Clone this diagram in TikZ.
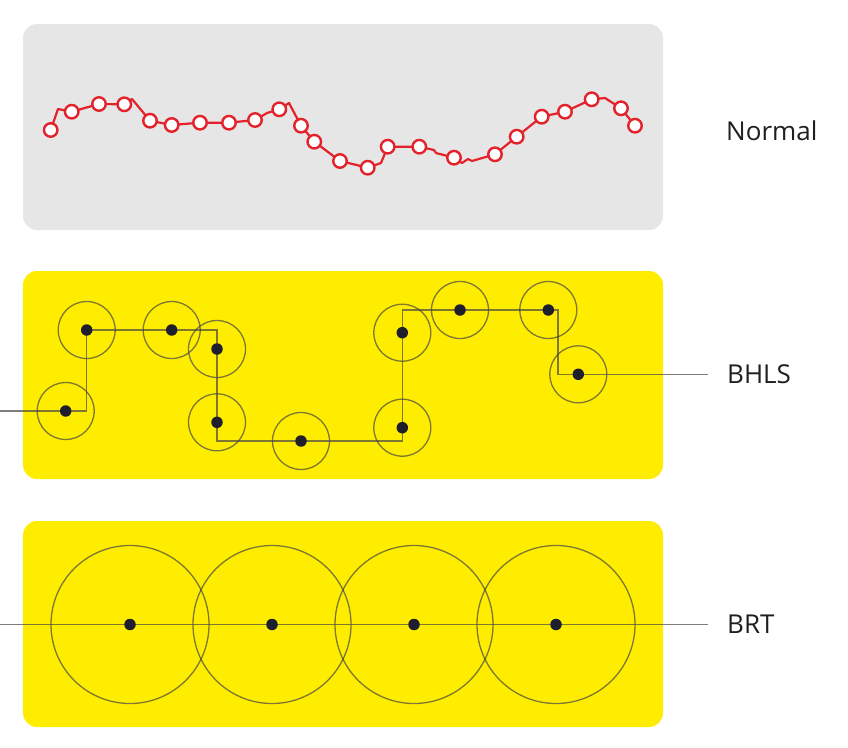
\documentclass[tikz,border=0pt]{standalone}
\usepackage{fontspec}
\setmainfont{Open Sans}
\definecolor{panelgray}{HTML}{E6E6E6}
\definecolor{panelyellow}{HTML}{FFED00}
\definecolor{routered}{HTML}{E3222B}
\definecolor{stopdot}{RGB}{30,30,45}
\definecolor{ringgray}{RGB}{70,70,70}
\begin{document}
\begin{tikzpicture}[x=1pt,y=-1pt,
  panel/.style={rounded corners=14pt},
  redstop/.style={circle,draw=routered,fill=white,line width=2.4pt,minimum size=13.5pt,inner sep=0pt},
  redline/.style={draw=routered,line width=2.2pt,line join=round},
  catch/.style={circle,draw=ringgray,draw opacity=0.7,line width=1.3pt,inner sep=0pt,minimum size=#1},
  catch/.default=57pt,
  stopd/.style={circle,fill=stopdot,inner sep=0pt,minimum size=11.5pt},
  route/.style={draw=ringgray,draw opacity=0.7,line width=1.3pt},
  lbl/.style={anchor=west,font=\fontsize{26}{31}\selectfont,text=black!88,inner sep=0pt}
]
\useasboundingbox (0,0) rectangle (848,747);

% panels
\fill[panelgray,panel] (23,24) rectangle (663,230);
\fill[panelyellow,panel] (23,271) rectangle (663,479);
\fill[panelyellow,panel] (23,521) rectangle (663,727);

% ---------- Normal ----------
\foreach \n/\x/\y in {1/50.7/130,2/71.7/111.7,3/99/104,4/124.3/104.3,5/150/120.7,6/171.7/125,
  7/200/122.7,8/229/122.7,9/255/120,10/279.3/109.3,11/301/125.7,12/314.3/141.7,13/340/161,
  14/367.7/167.7,15/387.7/146.7,16/419.3/146.7,17/454/157.7,18/495/154.3,19/516.7/136.7,
  20/541.7/116.7,21/565/111.7,22/591.7/99.3,23/621/108.3,24/635/125.7}
  \coordinate (c\n) at (\x,\y);
\draw[redline] (c1) -- (58,109) -- (c2) -- (c3) -- (c4) -- (132,99) -- (c5) -- (c6) -- (c7) -- (c8) -- (c9)
  -- (267,113) -- (c10) -- (289,103) -- (c11) -- (c12) -- (c13) -- (c14) -- (381,163) -- (c15)
  -- (c16) -- (434,150) -- (436,153) -- (c17) -- (462,163) -- (468,159) -- (472,161) -- (c18)
  -- (c19) -- (c20) -- (c21) -- (c22) -- (605,98) -- (c23) -- (c24);
\foreach \n in {1,...,24} \node[redstop] (s\n) at (c\n) {};
\node[lbl] (lnormal) at (726,131) {Normal};

% ---------- BHLS ----------
\foreach \n/\x/\y in {1/65.7/411,2/86.7/330,3/171.7/330,4/217/349,5/217/422.3,6/301/441,
  7/402.3/427.7,8/402.3/332.7,9/460/310,10/548.3/310,11/578.3/374.3}
  \node[catch] (h\n) at (\x,\y) {};
\coordinate (hstart) at (0,411);
\coordinate (hk1) at (558,310);
\coordinate (hk2) at (558,374.3);
\coordinate (hend) at (708,374.3);
\draw[route] (hstart) -- (h1.center) -- (h2.center |- h1.center) -- (h2.center) -- (h3.center)
  -- (h4.center |- h2.center) -- (h4.center) -- (h5.center) -- (h5.center |- h6.center)
  -- (h6.center) -- (h7.center |- h6.center) -- (h7.center) -- (h8.center)
  -- (h8.center |- h9.center) -- (h9.center) -- (h10.center) -- (hk1) -- (hk2)
  -- (h11.center) -- (hend);
\foreach \n in {1,...,11} \node[stopd] (hd\n) at (h\n.center) {};
\node[lbl] (lbhls) at (727,374.3) {BHLS};

% ---------- BRT ----------
\foreach \n/\x in {1/130,2/272,3/414,4/556}
  \node[catch=158pt] (b\n) at (\x,624.5) {};
\coordinate (bstart) at (0,624.5);
\coordinate (bend) at (708,624.5);
\draw[route] (bstart) -- (b1.center) -- (b2.center) -- (b3.center) -- (b4.center) -- (bend);
\foreach \n in {1,...,4} \node[stopd] (bd\n) at (b\n.center) {};
\node[lbl] (lbrt) at (727,624.5) {BRT};
\end{tikzpicture}
\end{document}
